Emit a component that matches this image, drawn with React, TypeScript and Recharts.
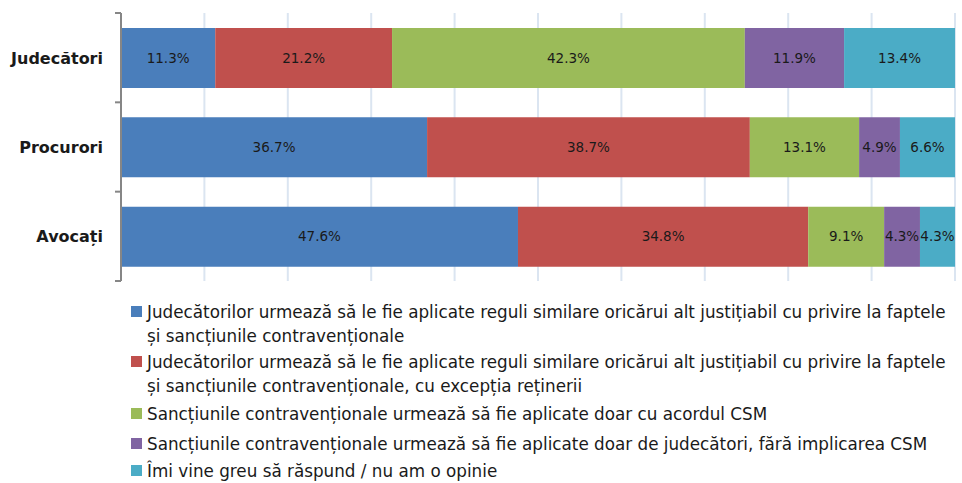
import { BarChart, Bar, XAxis, YAxis, CartesianGrid, Legend, LabelList } from 'recharts';

const categories = ['Judecători', 'Procurori', 'Avocați'];
const seriesNames = [
    'Judecătorilor urmează să le fie aplicate reguli similare oricărui alt justițiabil cu privire la faptele\nși sancțiunile contravenționale',
    'Judecătorilor urmează să le fie aplicate reguli similare oricărui alt justițiabil cu privire la faptele\nși sancțiunile contravenționale, cu excepția reținerii',
    'Sancțiunile contravenționale urmează să fie aplicate doar cu acordul CSM',
    'Sancțiunile contravenționale urmează să fie aplicate doar de judecători, fără implicarea CSM',
    'Îmi vine greu să răspund / nu am o opinie',
];
const reguliSimilare = [11.3, 36.7, 47.6];
const cuExceptia = [21.2, 38.7, 34.8];
const acordCsm = [42.3, 13.1, 9.1];
const doarJudecatori = [11.9, 4.9, 4.3];
const nuStiu = [13.4, 6.6, 4.3];
const xTicks = [0, 10, 20, 30, 40, 50, 60, 70, 80, 90, 100];

const colors = ['#4a7ebb', '#c0504d', '#9bbb59', '#8064a2', '#4bacc6'];
const keys = ['s1', 's2', 's3', 's4', 's5'];
const itemGaps = [0, 2, 4, 6, 3];
const font = '"DejaVu Sans", sans-serif';

const data = categories.map((name, i) => ({
    name,
    s1: reguliSimilare[i],
    s2: cuExceptia[i],
    s3: acordCsm[i],
    s4: doarJudecatori[i],
    s5: nuStiu[i],
}));

function CategoryTick(props: any) {
    const { x, y, payload, index, visibleTicksCount } = props;
    const axisX = x + 18;
    const half = payload?.offset ?? 44.67;
    const last = index === visibleTicksCount - 1;
    return (
        <g>
            <text x={x} y={y} dy={6} textAnchor="end" fill="#1a1a1a" fontSize={16} fontWeight="bold" fontFamily={font}>
                {payload.value}
            </text>
            <line x1={axisX - 6} x2={axisX} y1={y - half} y2={y - half} stroke="#868686" strokeWidth={2} />
            {last && <line x1={axisX - 6} x2={axisX} y1={y + half} y2={y + half} stroke="#868686" strokeWidth={2} />}
        </g>
    );
}

function renderLegend() {
    return (
        <div style={{ fontFamily: font, fontSize: 16.8, color: '#1a1a1a' }}>
            {seriesNames.map((label, i) => (
                <div key={label} style={{ display: 'flex', alignItems: 'flex-start', marginTop: itemGaps[i], lineHeight: '24px' }}>
                    <span style={{ width: 11, height: 11, background: colors[i], marginTop: 6, marginRight: 5, flex: 'none' }} />
                    <span style={{ whiteSpace: 'pre-line' }}>{label}</span>
                </div>
            ))}
        </div>
    );
}

export default function App() {
    return (
        <div style={{ position: 'absolute', left: 0, top: 0, width: 962, height: 483, background: '#fff' }}>
            <BarChart
                width={962}
                height={483}
                data={data}
                layout="vertical"
                margin={{ top: 13, right: 7, bottom: 202, left: 0 }}
                barSize={60}
            >
                <CartesianGrid horizontal={false} stroke="#dbe5f1" strokeWidth={2} />
                <XAxis type="number" domain={[0, 100]} ticks={xTicks} allowDataOverflow hide />
                <YAxis
                    type="category"
                    dataKey="name"
                    width={121}
                    tickLine={false}
                    tickSize={6}
                    tickMargin={12}
                    axisLine={{ stroke: '#868686', strokeWidth: 2 }}
                    tick={<CategoryTick />}
                    interval={0}
                />
                <Legend
                    layout="vertical"
                    verticalAlign="middle"
                    align="center"
                    content={renderLegend}
                    wrapperStyle={{ top: 300, left: 131, width: 830 }}
                />
                {keys.map((k, i) => (
                    <Bar key={k} dataKey={k} name={seriesNames[i]} stackId="a" fill={colors[i]} isAnimationActive={false}>
                        <LabelList
                            dataKey={k}
                            position="center"
                            formatter={(v: any) => `${Number(v).toFixed(1)}%`}
                            fill="#1a1a1a"
                            fontSize={13.5}
                            fontFamily={font}
                        />
                    </Bar>
                ))}
            </BarChart>
        </div>
    );
}
